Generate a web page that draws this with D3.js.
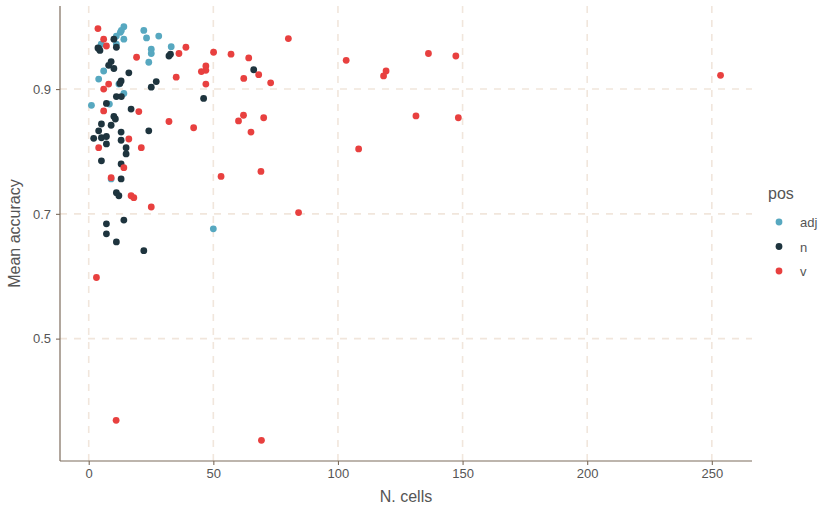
<!DOCTYPE html>
<html lang="en">
<head>
    <meta charset="UTF-8">
    <title></title>
    <script src="https://cdn.jsdelivr.net/npm/d3@7"></script>
    <style>
        body { margin: 0; background: #fff; }
        text { font-family: "Liberation Sans", Arial, sans-serif; }
    </style>
</head>
<body>
    <div id="root"></div>
    <script>
        // points: [N. cells, mean accuracy]
        const adjPoints = [
            [14.1, 1.000], [13.1, 0.994], [12.7, 0.991], [11.1, 0.985], [14.1, 0.980],
            [5.0, 0.972], [11.1, 0.972], [22.1, 0.994], [23.2, 0.982], [28.1, 0.985],
            [25.1, 0.964], [25.1, 0.957], [33.1, 0.968], [24.1, 0.943], [6.0, 0.929],
            [4.0, 0.916], [12.1, 0.908], [14.1, 0.893], [1.1, 0.874], [8.3, 0.876],
            [9.0, 0.756], [50.0, 0.676]
        ];
        const nPoints = [
            [10.1, 0.980], [4.0, 0.965], [3.7, 0.966], [4.5, 0.962], [11.1, 0.967],
            [32.2, 0.953], [32.8, 0.956], [9.0, 0.944], [8.0, 0.938], [10.1, 0.933],
            [16.1, 0.926], [13.0, 0.913], [12.5, 0.909], [27.1, 0.912], [25.1, 0.903],
            [11.1, 0.888], [13.1, 0.888], [7.1, 0.877], [17.0, 0.868], [10.1, 0.856],
            [10.7, 0.852], [5.1, 0.844], [9.0, 0.842], [4.0, 0.833], [13.0, 0.831],
            [24.1, 0.833], [2.0, 0.821], [5.1, 0.822], [7.1, 0.824], [13.0, 0.818],
            [7.1, 0.812], [15.0, 0.806], [15.0, 0.796], [5.1, 0.785], [13.0, 0.780],
            [13.0, 0.756], [11.1, 0.734], [12.1, 0.729], [7.1, 0.684], [14.1, 0.690],
            [7.1, 0.668], [11.1, 0.655], [22.1, 0.641], [66.2, 0.931], [46.1, 0.885]
        ];
        const vPoints = [
            [3.7, 0.997], [6.0, 0.980], [7.1, 0.969], [19.2, 0.951], [36.2, 0.957],
            [35.1, 0.919], [8.0, 0.908], [6.0, 0.900], [6.0, 0.865], [20.1, 0.864],
            [32.2, 0.848], [16.1, 0.820], [4.0, 0.806], [21.1, 0.806], [14.1, 0.774],
            [9.0, 0.758], [17.0, 0.729], [18.1, 0.726], [25.1, 0.711], [3.1, 0.598],
            [11.0, 0.369], [69.3, 0.337], [39.0, 0.967], [50.1, 0.959], [57.1, 0.956],
            [64.2, 0.950], [80.1, 0.981], [68.2, 0.923], [62.2, 0.917], [73.0, 0.910],
            [47.0, 0.937], [47.0, 0.930], [45.2, 0.928], [47.0, 0.908], [42.1, 0.838],
            [62.1, 0.858], [60.1, 0.849], [70.2, 0.854], [65.1, 0.831], [53.1, 0.760],
            [69.1, 0.768], [84.2, 0.702], [103.3, 0.946], [136.3, 0.957], [147.3, 0.953],
            [119.3, 0.929], [118.3, 0.921], [131.3, 0.857], [148.3, 0.854], [108.3, 0.804],
            [253.5, 0.922]
        ];
        const groups = ['adj', 'n', 'v'];
        const groupColors = ['#57a8c0', '#1e343e', '#e8403f'];
        const xTicks = [0, 50, 100, 150, 200, 250];
        const yTicks = [0.5, 0.7, 0.9];

        const width = 821, height = 510;
        const panel = {left: 60, right: 752, top: 6, bottom: 461};

        const data = [];
        [adjPoints, nPoints, vPoints].forEach((pts, gi) => {
            pts.forEach(p => data.push({x: p[0], y: p[1], pos: groups[gi]}));
        });

        // ggplot style 5% expansion
        function expand(ext) {
            const d = (ext[1] - ext[0]) * 0.05;
            return [ext[0] - d, ext[1] + d];
        }

        const x = d3.scaleLinear()
            .domain(expand(d3.extent(data, d => d.x)))
            .range([panel.left, panel.right]);
        const y = d3.scaleLinear()
            .domain(expand(d3.extent(data, d => d.y)))
            .range([panel.bottom, panel.top]);
        const color = d3.scaleOrdinal().domain(groups).range(groupColors);

        const svg = d3.select('#root').append('svg')
            .attr('width', width)
            .attr('height', height);

        const gridColor = '#f1e6dc';
        const axisColor = '#7d6c5c';
        const textColor = '#555555';

        // grid
        svg.append('g').selectAll('line')
            .data(xTicks)
            .enter().append('line')
            .attr('x1', d => x(d)).attr('x2', d => x(d))
            .attr('y1', panel.top).attr('y2', panel.bottom)
            .attr('stroke', gridColor)
            .attr('stroke-width', 1.6)
            .attr('stroke-dasharray', '7,7');
        svg.append('g').selectAll('line')
            .data(yTicks)
            .enter().append('line')
            .attr('y1', d => y(d)).attr('y2', d => y(d))
            .attr('x1', panel.left).attr('x2', panel.right)
            .attr('stroke', gridColor)
            .attr('stroke-width', 1.6)
            .attr('stroke-dasharray', '7,7');

        // points
        svg.append('g').selectAll('circle')
            .data(data)
            .enter().append('circle')
            .attr('cx', d => x(d.x))
            .attr('cy', d => y(d.y))
            .attr('r', 3.4)
            .attr('fill', d => color(d.pos));

        // axes
        const xAxis = svg.append('g')
            .attr('transform', `translate(0,${panel.bottom})`)
            .call(d3.axisBottom(x).tickValues(xTicks).tickSize(4).tickPadding(4).tickSizeOuter(0));
        const yAxis = svg.append('g')
            .attr('transform', `translate(${panel.left},0)`)
            .call(d3.axisLeft(y).tickValues(yTicks).tickFormat(d3.format('.1f')).tickSize(4).tickPadding(5).tickSizeOuter(0));

        [xAxis, yAxis].forEach(a => {
            a.select('.domain').attr('stroke', axisColor).attr('stroke-width', 1.2);
            a.selectAll('.tick line').attr('stroke', axisColor).attr('stroke-width', 1.1);
            a.selectAll('.tick text')
                .attr('fill', textColor)
                .style('font-size', '13px')
                .style('font-family', '"Liberation Sans", Arial, sans-serif');
        });
        yAxis.select('.domain').attr('d', `M0,${panel.top}V${panel.bottom}`);
        xAxis.select('.domain').attr('d', `M${panel.left},0H${panel.right}`);

        // axis titles
        svg.append('text')
            .attr('x', (panel.left + panel.right) / 2)
            .attr('y', 502)
            .attr('text-anchor', 'middle')
            .attr('fill', textColor)
            .style('font-size', '16px')
            .text('N. cells');
        svg.append('text')
            .attr('transform', `translate(20,${(panel.top + panel.bottom) / 2}) rotate(-90)`)
            .attr('text-anchor', 'middle')
            .attr('fill', textColor)
            .style('font-size', '16px')
            .text('Mean accuracy');

        // legend
        const legend = svg.append('g').attr('transform', 'translate(768,0)');
        legend.append('text')
            .attr('x', 0).attr('y', 199)
            .attr('fill', textColor)
            .style('font-size', '16px')
            .text('pos');
        const keys = legend.selectAll('g.key')
            .data(groups)
            .enter().append('g')
            .attr('class', 'key')
            .attr('transform', (d, i) => `translate(0,${222 + i * 24.5})`);
        keys.append('circle')
            .attr('cx', 11).attr('cy', 0).attr('r', 3.4)
            .attr('fill', d => color(d));
        keys.append('text')
            .attr('x', 32).attr('y', 5)
            .attr('fill', textColor)
            .style('font-size', '13px')
            .text(d => d);
    </script>
</body>
</html>
